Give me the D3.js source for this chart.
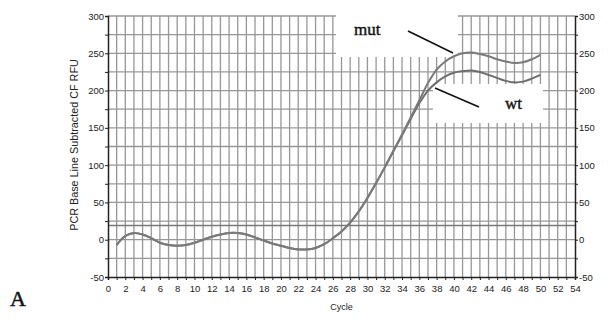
<!DOCTYPE html>
<html>
<head>
<meta charset="utf-8">
<script src="https://cdn.jsdelivr.net/npm/d3@7"></script>
<style>
  body { margin: 0; background: #fff; }
  svg { display: block; }
</style>
</head>
<body>
<div id="chart"></div>
<script>
// cycle numbers and the two amplification curves (RFU)
var cycles = [1,2,3,4,5,6,7,8,9,10,11,12,13,14,15,16,17,18,19,20,21,22,23,24,25,
              26,27,28,29,30,31,32,33,34,35,36,37,38,39,40,41,42,43,44,45,46,47,48,49,50];
var mutValues = [-7,5,9,7,2,-4,-7,-8,-7,-4,0,4,7,9,9,7,3,-1,-5,-8,-11,-13,-13,-11,-6,
                 2,11,23,38,56,76,97,119,141,164,187,210,228,239,246,250,251,249,246,242,239,237,238,242,248];
var wtValues = [-7,5,9,7,2,-4,-7,-8,-7,-4,0,4,7,9,9,7,3,-1,-5,-8,-11,-13,-13,-11,-6,
                2,11,23,38,56,76,97,119,140,162,183,200,211,219,224,226,227,225,221,217,213,211,212,216,221];
var threshold = 19;
var xTicks = d3.range(0, 55, 2);
var yTicks = [-50, 0, 50, 100, 150, 200, 250, 300];

var width = 611, height = 326;
var margin = {left: 108, top: 16, right: 36, bottom: 49};

var svg = d3.select("#chart").append("svg")
    .attr("width", width)
    .attr("height", height);

svg.append("rect").attr("width", width).attr("height", height).attr("fill", "#fff");

var x = d3.scaleLinear().domain([0, 54]).range([margin.left, width - margin.right]);
var y = d3.scaleLinear().domain([-50, 300]).range([height - margin.bottom, margin.top]);

var grid = svg.append("g");
// vertical grid: every cycle
grid.selectAll(".vg")
    .data(d3.range(1, 54))
    .enter().append("line")
    .attr("x1", function (d) { return x(d); })
    .attr("x2", function (d) { return x(d); })
    .attr("y1", y(-50))
    .attr("y2", y(300))
    .attr("stroke", "#979797")
    .attr("stroke-width", 1.3);
// horizontal grid: every 25
grid.selectAll(".hg")
    .data(d3.range(-25, 325, 25))
    .enter().append("line")
    .attr("x1", x(0))
    .attr("x2", x(54))
    .attr("y1", function (d) { return y(d); })
    .attr("y2", function (d) { return y(d); })
    .attr("stroke", "#979797")
    .attr("stroke-width", 1.3);

// threshold line
svg.append("line")
    .attr("x1", x(0)).attr("x2", x(54))
    .attr("y1", y(threshold)).attr("y2", y(threshold))
    .attr("stroke", "#777")
    .attr("stroke-width", 1.5);

// white label boxes over the grid
svg.append("rect").attr("x", 336).attr("y", 0).attr("width", 122).attr("height", 57).attr("fill", "#fff");
svg.append("rect").attr("x", 433).attr("y", 84).attr("width", 110).attr("height", 39).attr("fill", "#fff");

// axes
var axisColor = "#222";
var yLeft = svg.append("g")
    .attr("transform", "translate(" + x(0) + ",0)")
    .call(d3.axisLeft(y).tickValues(d3.range(-50, 325, 25)).tickSize(3)
        .tickFormat(function (d) { return yTicks.indexOf(d) >= 0 ? d : ""; }));
var yRight = svg.append("g")
    .attr("transform", "translate(" + x(54) + ",0)")
    .call(d3.axisRight(y).tickValues(d3.range(-50, 325, 25)).tickSize(3)
        .tickFormat(function (d) { return yTicks.indexOf(d) >= 0 ? d : ""; }));
var xBottom = svg.append("g")
    .attr("transform", "translate(0," + y(-50) + ")")
    .call(d3.axisBottom(x).tickValues(d3.range(0, 55, 1)).tickSize(3)
        .tickFormat(function (d) { return xTicks.indexOf(d) >= 0 ? d : ""; }));

[yLeft, yRight, xBottom].forEach(function (a) {
    a.select(".domain").attr("stroke", axisColor).attr("stroke-width", 1.5);
    a.selectAll("line").attr("stroke", axisColor);
    a.selectAll("text")
        .attr("font-family", "'Liberation Sans', Arial, sans-serif")
        .attr("font-size", "9.5px")
        .attr("fill", "#222");
});
yLeft.selectAll("text").attr("x", -4);
yRight.selectAll("text").attr("x", 4);
xBottom.selectAll("text").attr("y", 8);

// curves
var line = d3.line()
    .x(function (d) { return x(d[0]); })
    .y(function (d) { return y(d[1]); })
    .curve(d3.curveCatmullRom);

svg.append("path")
    .datum(cycles.map(function (c, i) { return [c, wtValues[i]]; }))
    .attr("d", line)
    .attr("fill", "none")
    .attr("stroke", "#6e6e6e")
    .attr("stroke-width", 2);
svg.append("path")
    .datum(cycles.map(function (c, i) { return [c, mutValues[i]]; }))
    .attr("d", line)
    .attr("fill", "none")
    .attr("stroke", "#7a7a7a")
    .attr("stroke-width", 2);

// labels with leader lines
svg.append("line").attr("x1", 408).attr("y1", 31).attr("x2", 453).attr("y2", 53)
    .attr("stroke", "#111").attr("stroke-width", 1.6);
svg.append("line").attr("x1", 435).attr("y1", 88).attr("x2", 479).attr("y2", 107)
    .attr("stroke", "#111").attr("stroke-width", 1.6);
svg.append("text").text("mut")
    .attr("x", 354).attr("y", 35)
    .attr("font-family", "'Liberation Serif', 'Times New Roman', serif")
    .attr("font-size", "17px")
    .attr("stroke", "#111").attr("stroke-width", 0.4)
    .attr("fill", "#111");
svg.append("text").text("wt")
    .attr("x", 505).attr("y", 109)
    .attr("font-family", "'Liberation Serif', 'Times New Roman', serif")
    .attr("font-size", "17px")
    .attr("stroke", "#111").attr("stroke-width", 0.4)
    .attr("fill", "#111");

// axis titles
svg.append("text").text("PCR Base Line Subtracted CF RFU")
    .attr("transform", "translate(78," + y(127) + ") rotate(-90)")
    .attr("text-anchor", "middle")
    .attr("font-family", "'Liberation Sans', Arial, sans-serif")
    .attr("font-size", "10.8px")
    .attr("fill", "#222");
svg.append("text").text("Cycle")
    .attr("x", x(27)).attr("y", 310)
    .attr("text-anchor", "middle")
    .attr("font-family", "'Liberation Sans', Arial, sans-serif")
    .attr("font-size", "9px")
    .attr("fill", "#222");

// panel letter
svg.append("text").text("A")
    .attr("x", 10).attr("y", 306)
    .attr("font-family", "'Liberation Serif', 'Times New Roman', serif")
    .attr("font-size", "22px")
    .attr("stroke", "#111").attr("stroke-width", 0.5)
    .attr("fill", "#111");
</script>
</body>
</html>
